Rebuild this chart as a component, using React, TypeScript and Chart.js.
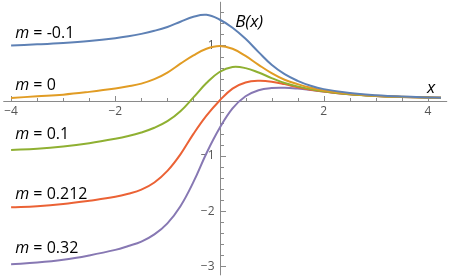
import React, { useEffect, useRef } from 'react';
import { Chart, registerables } from 'chart.js';

Chart.register(...registerables);

// x sample positions
const xValues = [-4, -3.5, -3, -2.5, -2, -1.75, -1.5, -1.25, -1, -0.75, -0.5, -0.25, 0, 0.25, 0.5, 0.75, 1, 1.25, 1.5, 1.75, 2, 2.5, 3, 3.5, 4, 4.25];

// B(x) for each m
const bMneg01 = [1.0, 1.02, 1.045, 1.08, 1.13, 1.165, 1.21, 1.265, 1.335, 1.43, 1.52, 1.555, 1.47, 1.32, 1.12, 0.88, 0.65, 0.48, 0.36, 0.27, 0.21, 0.14, 0.1, 0.075, 0.06, 0.055];
const bM0 = [0.05, 0.08, 0.11, 0.16, 0.22, 0.26, 0.31, 0.39, 0.51, 0.67, 0.82, 0.94, 0.99, 0.94, 0.81, 0.65, 0.5, 0.38, 0.3, 0.235, 0.185, 0.125, 0.09, 0.07, 0.058, 0.053];
const bM01 = [-0.89, -0.87, -0.83, -0.77, -0.69, -0.64, -0.575, -0.49, -0.37, -0.19, 0.06, 0.32, 0.52, 0.61, 0.59, 0.51, 0.41, 0.32, 0.26, 0.21, 0.17, 0.115, 0.085, 0.068, 0.057, 0.052];
const bM0212 = [-1.93, -1.91, -1.87, -1.81, -1.74, -1.685, -1.61, -1.48, -1.27, -0.97, -0.6, -0.27, 0, 0.22, 0.33, 0.36, 0.345, 0.3, 0.245, 0.2, 0.165, 0.115, 0.085, 0.068, 0.057, 0.052];
const bM032 = [-2.96, -2.93, -2.88, -2.8, -2.7, -2.63, -2.55, -2.42, -2.22, -1.91, -1.47, -0.95, -0.5, -0.14, 0.08, 0.19, 0.23, 0.235, 0.22, 0.195, 0.165, 0.115, 0.085, 0.068, 0.057, 0.052];

const seriesNames = ['m = -0.1', 'm = 0', 'm = 0.1', 'm = 0.212', 'm = 0.32'];
const seriesValues = [bMneg01, bM0, bM01, bM0212, bM032];
const seriesColors = ['#5E81B5', '#E19C24', '#8FB032', '#EB6235', '#8778B3'];

// tick labels
const xMajorTicks = [-4, -2, 2, 4];
const yMajorTicks = [1, -1, -2, -3];

// label anchors in data coordinates (x, y center)
const labelAnchors = [
  [-3.92, 1.21],
  [-3.92, 0.28],
  [-3.92, -0.61],
  [-3.92, -1.69],
  [-3.92, -2.67],
];

const fontFamily = '"Open Sans", "DejaVu Sans", sans-serif';

const axesPlugin = {
  id: 'mathAxes',
  beforeDatasetsDraw(chart: any) {
    const { ctx, scales } = chart;
    const xs = scales.x;
    const ys = scales.y;
    const x0 = xs.getPixelForValue(0);
    const y0 = ys.getPixelForValue(0);
    ctx.save();
    ctx.strokeStyle = '#8a8a8a';
    ctx.lineWidth = 1;
    ctx.beginPath();
    ctx.moveTo(xs.getPixelForValue(-4.15), Math.round(y0) + 0.5);
    ctx.lineTo(xs.getPixelForValue(4.37), Math.round(y0) + 0.5);
    ctx.stroke();
    ctx.beginPath();
    ctx.moveTo(Math.round(x0) + 0.5, ys.getPixelForValue(1.79));
    ctx.lineTo(Math.round(x0) + 0.5, ys.getPixelForValue(-3.16));
    ctx.stroke();
    for (let i = -8; i <= 8; i++) {
      if (i === 0) continue;
      const v = i * 0.5;
      const px = Math.round(xs.getPixelForValue(v)) + 0.5;
      const major = xMajorTicks.includes(v);
      const len = major ? 5 : 3;
      ctx.beginPath();
      ctx.moveTo(px, Math.round(y0));
      ctx.lineTo(px, Math.round(y0) - len);
      ctx.stroke();
    }
    for (let i = -15; i <= 8; i++) {
      if (i === 0) continue;
      const v = Math.round(i * 0.2 * 10) / 10;
      const py = Math.round(ys.getPixelForValue(v)) + 0.5;
      const major = yMajorTicks.includes(v);
      const len = major ? 5 : 3;
      ctx.beginPath();
      ctx.moveTo(Math.round(x0) + 1, py);
      ctx.lineTo(Math.round(x0) + 1 + len, py);
      ctx.stroke();
    }
    ctx.fillStyle = '#555555';
    ctx.font = `12px ${fontFamily}`;
    ctx.textAlign = 'center';
    ctx.textBaseline = 'top';
    for (const v of xMajorTicks) {
      const txt = v < 0 ? '\u2212' + Math.abs(v) : String(v);
      ctx.fillText(txt, xs.getPixelForValue(v), y0 + 5);
    }
    ctx.textAlign = 'right';
    ctx.textBaseline = 'middle';
    for (const v of yMajorTicks) {
      const txt = v < 0 ? '\u2212' + Math.abs(v) : String(v);
      ctx.fillText(txt, x0 - 5, ys.getPixelForValue(v));
    }
    ctx.restore();
  },
  afterDatasetsDraw(chart: any) {
    const { ctx, scales } = chart;
    const xs = scales.x;
    const ys = scales.y;
    ctx.save();
    ctx.fillStyle = '#000000';
    ctx.textBaseline = 'middle';
    ctx.textAlign = 'left';
    seriesNames.forEach((name, i) => {
      const [ax, ay] = labelAnchors[i];
      let px = xs.getPixelForValue(ax);
      const py = ys.getPixelForValue(ay);
      ctx.font = `italic 16px ${fontFamily}`;
      ctx.fillText('m', px, py);
      px += ctx.measureText('m').width;
      ctx.font = `16px ${fontFamily}`;
      ctx.fillText(name.slice(1), px, py);
    });
    ctx.font = `italic 17px ${fontFamily}`;
    ctx.fillText('B(x)', xs.getPixelForValue(0.3), ys.getPixelForValue(1.42));
    ctx.textAlign = 'center';
    ctx.fillText('x', xs.getPixelForValue(4.06), ys.getPixelForValue(0.23));
    ctx.restore();
  },
};

export default function App() {
  const canvasRef = useRef<HTMLCanvasElement | null>(null);

  useEffect(() => {
    const canvas = canvasRef.current;
    if (!canvas) return;
    const datasets = seriesValues.map((vals, i) => ({
      label: seriesNames[i],
      data: xValues.map((x, j) => ({ x, y: vals[j] })),
      borderColor: seriesColors[i],
      backgroundColor: seriesColors[i],
      borderWidth: 2,
      pointRadius: 0,
      fill: false,
      tension: 0.4,
    }));
    const chart = new Chart(canvas, {
      type: 'line',
      data: { datasets },
      options: {
        animation: false,
        responsive: false,
        maintainAspectRatio: false,
        layout: { padding: 0 },
        plugins: { legend: { display: false }, tooltip: { enabled: false } },
        scales: {
          x: { type: 'linear', min: -4.213, max: 4.424, display: false },
          y: { type: 'linear', min: -3.227, max: 1.823, display: false },
        },
      },
      plugins: [axesPlugin],
    });
    return () => chart.destroy();
  }, []);

  return (
    <div style={{ position: 'absolute', left: 0, top: 0, width: 450, height: 279, background: '#ffffff' }}>
      <canvas ref={canvasRef} width={450} height={279} style={{ display: 'block' }} />
    </div>
  );
}
